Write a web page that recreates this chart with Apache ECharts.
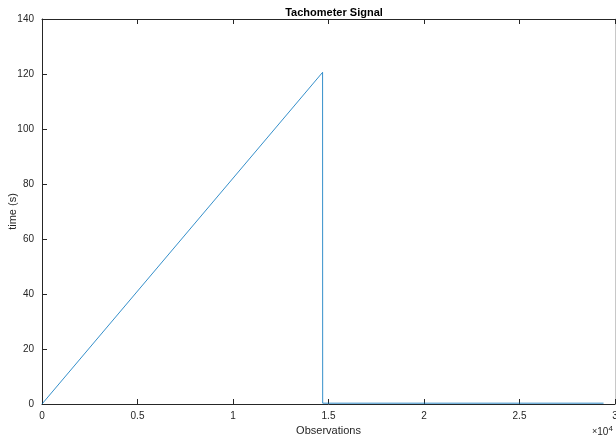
<!DOCTYPE html>
<html><head><meta charset="utf-8">
<script src="https://cdn.jsdelivr.net/npm/echarts@6/dist/echarts.min.js"></script>
<style>html,body{margin:0;padding:0;background:#fff}#c{width:616px;height:442px}</style>
</head><body><div id="c"></div>
<script>
const observations = [0, 14690, 14695, 29400];
const timeSeconds = [0, 120.6, 0.3, 0.3];
const xTicks = [0, 5000, 10000, 15000, 20000, 25000, 30000];
const yTicks = [0, 20, 40, 60, 80, 100, 120, 140];
const titleText = 'Tachometer Signal';
const xName = 'Observations';
const yName = 'time (s)';

const chart = echarts.init(document.getElementById('c'));
const axisCol = '#262626';
const tickCol = '#262626';
const font = 'Liberation Sans, Arial, Helvetica, sans-serif';
chart.setOption({
  animation: false,
  title: { text: titleText, left: 329, top: 2, textAlign: 'center',
    textStyle: { fontFamily: font, fontSize: 11, fontWeight: 'bold', color: '#000' } },
  grid: { left: 42, right: 1, top: 19, bottom: 38, containLabel: false, outerBoundsMode: 'none' },
  xAxis: [{
    type: 'value', min: 0, max: 30000, interval: 5000, position: 'bottom',
    name: xName, nameLocation: 'middle', nameGap: 21,
    nameTextStyle: { fontFamily: font, fontSize: 11, color: axisCol },
    axisLine: { show: true, onZero: false, lineStyle: { color: axisCol, width: 1 } },
    axisTick: { show: true, inside: true, length: 5, lineStyle: { color: tickCol, width: 1 } },
    axisLabel: { fontFamily: font, fontSize: 10, color: axisCol, margin: 7,
      showMaxLabel: true, formatter: v => String(v / 10000) },
    splitLine: { show: false }
  }, {
    type: 'value', min: 0, max: 30000, interval: 5000, position: 'top',
    axisLine: { show: true, onZero: false, lineStyle: { color: axisCol, width: 1 } },
    axisTick: { show: true, inside: true, length: 5, lineStyle: { color: tickCol, width: 1 } },
    axisLabel: { show: false }, splitLine: { show: false }
  }],
  yAxis: [{
    type: 'value', min: 0, max: 140, interval: 20, position: 'left',
    name: yName, nameLocation: 'middle', nameGap: 24, nameMoveOverlap: false,
    nameTextStyle: { fontFamily: font, fontSize: 11, color: axisCol },
    axisLine: { show: true, onZero: false, lineStyle: { color: axisCol, width: 1 } },
    axisTick: { show: true, inside: true, length: 5, lineStyle: { color: tickCol, width: 1 } },
    axisLabel: { fontFamily: font, fontSize: 10, color: axisCol, margin: 8 },
    splitLine: { show: false }
  }, {
    type: 'value', min: 0, max: 140, interval: 20, position: 'right',
    axisLine: { show: true, onZero: false, lineStyle: { color: '#c8c8c8', width: 1 } },
    axisTick: { show: false }, axisLabel: { show: false }, splitLine: { show: false }
  }],
  series: [{
    type: 'line', xAxisIndex: 0, yAxisIndex: 0,
    data: observations.map((x, i) => [x, timeSeconds[i]]),
    showSymbol: false, symbol: 'none',
    lineStyle: { color: '#0072BD', width: 0.8 }
  }],
  graphic: [{
    type: 'text', left: 592, top: 425,
    style: { text: '{a|×}{b|10}{c|4}', rich: {
      a: { fontFamily: font, fontSize: 9, fill: axisCol },
      b: { fontFamily: font, fontSize: 10, fill: axisCol },
      c: { fontFamily: font, fontSize: 8, fill: axisCol, verticalAlign: 'top', padding: [0,0,6,0] }
    } }
  }]
});
</script></body></html>
